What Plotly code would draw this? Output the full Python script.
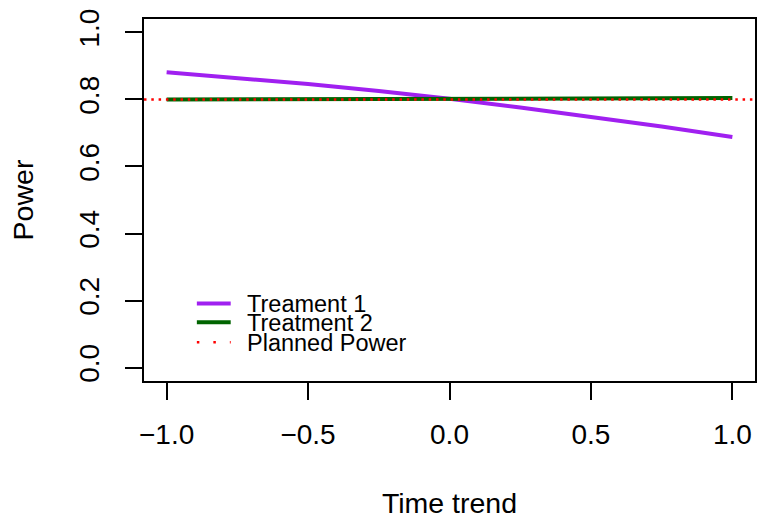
import plotly.graph_objects as go

# ---- data ----
time_trend = [-1.0, -0.75, -0.5, -0.25, 0.0, 0.25, 0.5, 0.75, 1.0]
treatment1 = [0.881, 0.864, 0.846, 0.825, 0.802, 0.776, 0.748, 0.719, 0.688]
treatment2 = [0.800, 0.8005, 0.801, 0.8015, 0.802, 0.8025, 0.803, 0.8035, 0.804]
planned_power = 0.8
legend_names = ["Treament 1", "Treatment 2", "Planned Power"]
x_ticks = [-1.0, -0.5, 0.0, 0.5, 1.0]
y_ticks = [0.0, 0.2, 0.4, 0.6, 0.8, 1.0]

PURPLE = "#A020F0"
GREEN = "#006400"
RED = "#FF0000"
FONT = "Liberation Sans, Arial, sans-serif"

fig = go.Figure()
fig.add_trace(go.Scatter(x=time_trend, y=treatment1, mode="lines",
                         line=dict(color=PURPLE, width=4), name=legend_names[0],
                         showlegend=False))
fig.add_trace(go.Scatter(x=time_trend, y=treatment2, mode="lines",
                         line=dict(color=GREEN, width=4), name=legend_names[1],
                         showlegend=False))
fig.add_hline(y=planned_power, line=dict(color=RED, width=2.5, dash="2.5px,4.8px"),
              layer="above")

# manual legend (R style, tight spacing)
leg_x0, leg_x1, leg_tx = 0.0865, 0.1419, 0.166
leg_rows = [0.2143, 0.1621, 0.1071]
styles = [dict(color=PURPLE, width=4), dict(color=GREEN, width=4),
          dict(color=RED, width=2.5, dash="2.5px,14px")]
for name, yy, st in zip(legend_names, leg_rows, styles):
    fig.add_shape(type="line", xref="paper", yref="paper", x0=leg_x0, x1=leg_x1,
                  y0=yy, y1=yy, line=st)
    fig.add_annotation(xref="paper", yref="paper", x=leg_tx, y=yy, text=name,
                       showarrow=False, xanchor="left", yanchor="middle",
                       height=19, valign="middle",
                       font=dict(family=FONT, size=23.5, color="black"))

axis_common = dict(showline=True, linecolor="black", linewidth=1.5, mirror=True,
                   ticks="outside", ticklen=17, tickwidth=1.5, tickcolor="black",
                   showgrid=False, zeroline=False, tickformat=".1f",
                   tickfont=dict(family=FONT, size=28, color="black"))

fig.update_xaxes(range=[-1.08, 1.08], tickvals=x_ticks, ticklabelstandoff=11,
                 title=dict(text="Time trend", standoff=46,
                            font=dict(family=FONT, size=28.5, color="black")),
                 **axis_common)
fig.update_yaxes(range=[-0.04, 1.04], tickvals=y_ticks, tickangle=-90,
                 ticklabelstandoff=15,
                 title=dict(text="Power", standoff=32,
                            font=dict(family=FONT, size=28.5, color="black")),
                 **axis_common)

fig.update_layout(width=760, height=519, margin=dict(l=144, r=3, t=19, b=136),
                  paper_bgcolor="white", plot_bgcolor="white",
                  font=dict(family=FONT, color="black"))
fig.write_html("out.html")
